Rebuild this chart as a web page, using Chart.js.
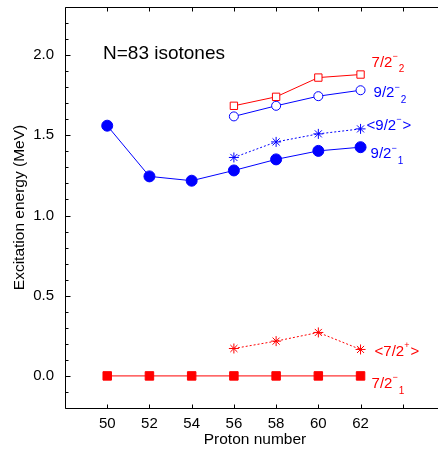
<!DOCTYPE html>
<html><head><meta charset="utf-8">
<script src="https://cdn.jsdelivr.net/npm/chart.js@4"></script>
<style>
html,body{margin:0;padding:0;overflow:hidden;background:#fff;width:438px;height:451px}
#wrap{position:absolute;left:0;top:0;width:452px;height:451px}
</style>
</head><body><div id="wrap"><canvas id="c"></canvas></div>
<script>
// ---- data ----
const protons = [50, 52, 54, 56, 58, 60, 62];
const protonsUpper = [56, 58, 60, 62];
const e72minus1 = [0, 0, 0, 0, 0, 0, 0];
const e72plusAvg = [0.171, 0.217, 0.271, 0.165];
const e92minus1 = [1.560, 1.244, 1.217, 1.281, 1.350, 1.403, 1.426];
const e92minusAvg = [1.362, 1.459, 1.509, 1.540];
const e92minus2 = [1.618, 1.684, 1.744, 1.781];
const e72minus2 = [1.684, 1.740, 1.860, 1.879];
const xTickValues = [50, 52, 54, 56, 58, 60, 62];
const yTickValues = [0, 0.5, 1.0, 1.5, 2.0];
const titleText = 'N=83 isotones';

const FONT = '"Liberation Sans", Arial, Helvetica, sans-serif';
const BLUE = '#0000ff', RED = '#ff0000';
Chart.defaults.color = '#000';
Chart.defaults.font.family = FONT;

const pts = (xs, ys) => xs.map((x, i) => ({x: x, y: ys[i]}));

function ds(xs, ys, o) {
  return Object.assign({
    data: pts(xs, ys), showLine: true, borderWidth: 1, pointBorderWidth: 1,
    pointHoverRadius: 0
  }, o);
}

const datasets = [
  ds(protons, e72minus1, {borderColor: RED, backgroundColor: RED, pointStyle: 'rect', pointRadius: 6}),
  ds(protonsUpper, e72plusAvg, {borderColor: RED, backgroundColor: RED, pointStyle: 'star', pointRadius: 5, borderDash: [2, 2]}),
  ds(protons, e92minus1, {borderColor: BLUE, backgroundColor: BLUE, pointStyle: 'circle', pointRadius: 5.5}),
  ds(protonsUpper, e92minusAvg, {borderColor: BLUE, backgroundColor: BLUE, pointStyle: 'star', pointRadius: 5, borderDash: [2, 2]}),
  ds(protonsUpper, e92minus2, {borderColor: BLUE, backgroundColor: '#fff', pointStyle: 'circle', pointRadius: 4.5}),
  ds(protonsUpper, e72minus2, {borderColor: RED, backgroundColor: '#fff', pointStyle: 'rect', pointRadius: 5.2})
];

// labels: [datasetIndex, parts, color, dx, dy]
const stateLabels = [
  [5, [['7/2', 'n'], ['\u2212', 'sup'], ['2', 'sub']], RED, 11, -12],
  [4, [['9/2', 'n'], ['\u2212', 'sup'], ['2', 'sub']], BLUE, 13, 3],
  [3, [['<9/2', 'n'], ['\u2212', 'sup'], ['>', 'n']], BLUE, 6, -3],
  [2, [['9/2', 'n'], ['\u2212', 'sup'], ['1', 'sub']], BLUE, 10, 7],
  [1, [['<7/2', 'n'], ['+', 'sup'], ['>', 'n']], RED, 14, 2],
  [0, [['7/2', 'n'], ['\u2212', 'sup'], ['1', 'sub']], RED, 11, 8]
];

const framePlugin = {
  id: 'frame',
  afterDatasetsDraw(chart) {
    const {ctx, chartArea: ca, scales: {x, y}} = chart;
    ctx.save();
    ctx.strokeStyle = '#000';
    ctx.lineWidth = 1;
    ctx.beginPath();
    const L = Math.round(ca.left) + 0.5, T = Math.round(ca.top) + 0.5, B = Math.round(ca.bottom) + 0.5, R = Math.round(ca.right) + 0.5;
    ctx.moveTo(L, T); ctx.lineTo(R, T); ctx.lineTo(R, B); ctx.lineTo(L, B); ctx.closePath();
    // y ticks (inward)
    for (let k = -2; k <= 23; k++) {
      const v = k / 10;
      const py = Math.round(y.getPixelForValue(v)) + 0.5;
      const len = (k % 5 === 0) ? 5 : 3;
      ctx.moveTo(L, py); ctx.lineTo(L + len, py);
      ctx.moveTo(R, py); ctx.lineTo(R - len, py);
    }
    // x ticks (inward, bottom and top)
    for (let v = 50; v <= 64; v += 2) {
      const px = Math.round(x.getPixelForValue(v)) + 0.5;
      ctx.moveTo(px, B); ctx.lineTo(px, B - 4);
      ctx.moveTo(px, T); ctx.lineTo(px, T + 4);
    }
    ctx.stroke();

    // title text
    ctx.fillStyle = '#000';
    ctx.font = '19px ' + FONT;
    ctx.textBaseline = 'middle';
    ctx.textAlign = 'left';
    ctx.fillText(titleText, x.getPixelForValue(49.8), y.getPixelForValue(2.0) - 1);

    // state labels
    stateLabels.forEach(([di, parts, color, dx, dy]) => {
      const d = chart.data.datasets[di].data;
      const last = d[d.length - 1];
      let px = x.getPixelForValue(last.x) + dx;
      const py = y.getPixelForValue(last.y) + dy;
      ctx.fillStyle = color;
      parts.forEach(([t, kind]) => {
        let size = 15, off = 0;
        if (kind === 'sup') { size = 9; off = -6; }
        if (kind === 'sub') { size = 10; off = 7; }
        ctx.font = size + 'px ' + FONT;
        ctx.fillText(t, px, py + off);
        px += ctx.measureText(t).width + (kind === 'sup' ? 1 : 0);
      });
    });
    ctx.restore();
  }
};

new Chart(document.getElementById('c'), {
  type: 'scatter',
  data: {datasets},
  options: {
    responsive: true, maintainAspectRatio: false, animation: false,
    events: [],
    layout: {padding: {top: 5, right: 5, left: 0, bottom: 0}},
    plugins: {legend: {display: false}, tooltip: {enabled: false}},
    scales: {
      x: {
        type: 'linear', position: 'bottom', min: 48, max: 66,
        grid: {display: false, drawTicks: false}, border: {display: false},
        afterBuildTicks: s => { s.ticks = xTickValues.map(v => ({value: v})); },
        afterFit: s => { s.height = 43; s.paddingLeft = 0; s.paddingRight = 0; },
        ticks: {font: {size: 15}, padding: 7, color: '#000', callback: v => String(v)},
        title: {display: true, text: 'Proton number', font: {size: 15.5}, color: '#000', padding: {top: 0, bottom: 2}}
      },
      y: {
        type: 'linear', min: -0.2, max: 2.3,
        grid: {display: false, drawTicks: false}, border: {display: false},
        afterBuildTicks: s => { s.ticks = yTickValues.map(v => ({value: v})); },
        afterFit: s => { s.width = 65; s.paddingTop = 0; s.paddingBottom = 0; },
        ticks: {font: {size: 15}, padding: 11, color: '#000', callback: v => Number(v).toFixed(1)},
        title: {display: true, text: 'Excitation energy (MeV)', font: {size: 15.5}, color: '#000', padding: {top: 10, bottom: 0}}
      }
    }
  },
  plugins: [framePlugin]
});
</script>
</body></html>
